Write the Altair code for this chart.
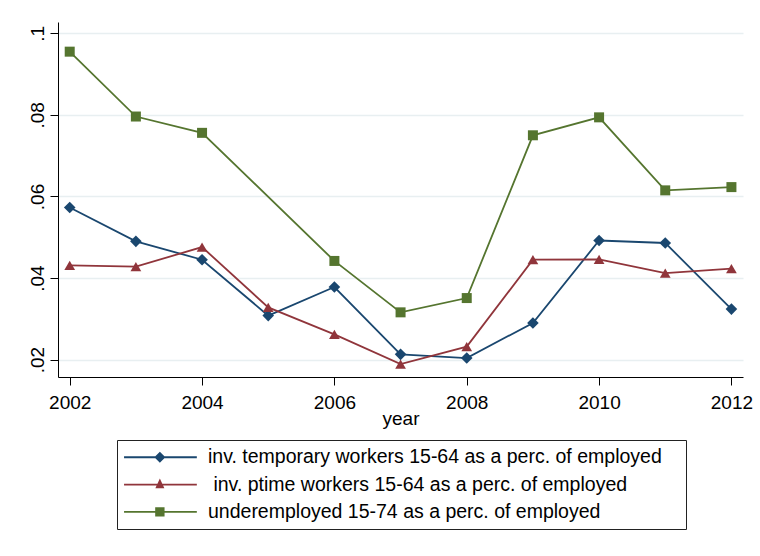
import altair as alt
import pandas as pd

# ---- data -------------------------------------------------------------
years = list(range(2002, 2013))
temporary = [0.0573, 0.0490, 0.0445, 0.0308, 0.0378, 0.0213, 0.0204,
             0.0290, 0.0492, 0.0486, 0.0324]
ptime = [0.0431, 0.0428, 0.0476, 0.0328, 0.0262, 0.0189, 0.0232,
         0.0445, 0.0446, 0.0412, 0.0423]
underemployed = [0.0955, 0.0796, 0.0756, None, 0.0442, 0.0316, 0.0351,
                 0.0750, 0.0794, 0.0615, 0.0623]

series_names = [
    "inv. temporary workers 15-64 as a perc. of employed",
    "\u00a0inv. ptime workers 15-64 as a perc. of employed",
    "underemployed 15-74 as a perc. of employed",
]
x_ticks = [2002, 2004, 2006, 2008, 2010, 2012]
y_ticks = [0.02, 0.04, 0.06, 0.08, 0.1]

rows = []
for name, values in zip(series_names, [temporary, ptime, underemployed]):
    for yr, v in zip(years, values):
        if v is not None:
            rows.append({"year": yr, "value": v, "series": name})
df = pd.DataFrame(rows)

# ---- styling ----------------------------------------------------------
colors = ["#1a476f", "#90353b", "#55752f"]
shapes = ["diamond", "triangle-up", "square"]
sizes = [135, 115, 100]
FONT = "Liberation Sans"

# legend keys: a short line with the marker sitting on it (path units = 6 px)
c, t = 4.27, 0.15
line_part = f"M-1.7,{-t}H10.43V{t}H-1.7Z"
legend_paths = [
    line_part + f"M{c},-0.92L{c + 0.92},0L{c},0.92L{c - 0.92},0Z",
    line_part + f"M{c},-1L{c + 0.75},0.6H{c - 0.75}Z",
    line_part + f"M{c - 0.78},-0.78H{c + 0.78}V0.78H{c - 0.78}Z",
]

y_scale = alt.Scale(domain=[0.01575, 0.10277], nice=False, zero=False)
x_enc = alt.X(
    "year:Q",
    scale=alt.Scale(domain=[2001.823, 2012.175], nice=False, zero=False),
    axis=alt.Axis(
        values=x_ticks, format="d", title="year", grid=False,
        tickSize=8, labelPadding=8, labelFontSize=19, labelFont=FONT,
        labelColor="black", domainColor="black", tickColor="black",
        titleFont=FONT, titleFontSize=19, titleFontWeight="normal",
        titleColor="black", titleBaseline="alphabetic", titleY=47,
    ),
)
y_axis = alt.Axis(
    values=y_ticks, labelExpr="substring(format(datum.value, '.2~f'), 1)",
    title=None, grid=True, gridColor="#e8eff1", gridWidth=1.6,
    tickSize=8, labelPadding=7, labelAngle=270, labelAlign="center",
    labelBaseline="alphabetic", labelFontSize=19, labelFont=FONT,
    labelColor="black", domainColor="black", tickColor="black",
)
y_enc = alt.Y("value:Q", scale=y_scale, axis=y_axis)

# one line + marker layer per series, drawn in series order
layers = []
for name, col, shp, sz in zip(series_names, colors, shapes, sizes):
    sub = alt.Chart(df).transform_filter(
        alt.FieldEqualPredicate(field="series", equal=name)
    )
    layers.append(sub.mark_line(strokeWidth=1.8, color=col).encode(x=x_enc, y=y_enc))
    layers.append(
        sub.mark_point(filled=True, shape=shp, size=sz, opacity=1, color=col)
        .encode(x=x_enc, y=y_enc)
    )

# layer that only carries the legend: its points sit below the y domain and
# are clipped away; zero-width characters keep the padding spaces untrimmed
legend_layer = (
    alt.Chart(df)
    .transform_calculate(below="datum.value - 1")
    .mark_point(filled=True, opacity=1, clip=True)
    .encode(
        x=x_enc,
        y=alt.Y("below:Q", scale=y_scale, axis=y_axis),
        color=alt.Color(
            "series:N", scale=alt.Scale(domain=series_names, range=colors),
            legend=alt.Legend(
                title=None, orient="none", legendX=59, legendY=418,
                padding=7.5, rowPadding=6.3, symbolSize=144, symbolStrokeWidth=0,
                symbolOpacity=1, labelOffset=64, labelFontSize=19.5,
                labelFont=FONT, labelColor="black", labelLimit=0,
                strokeColor="#222", fillColor="white", cornerRadius=0,
                labelExpr="'\u200b' + datum.label + '\u00a0\u00a0\u00a0\u200b'",
            ),
        ),
        shape=alt.Shape("series:N", scale=alt.Scale(domain=series_names,
                                                     range=legend_paths)),
    )
)

chart = (
    alt.layer(*layers, legend_layer)
    .properties(
        width=685, height=355,
        autosize=alt.AutoSizeParams(type="none"),
        padding={"left": 58, "top": 22, "right": 17, "bottom": 179},
        background="white",
    )
    .configure_view(stroke=None)
)

chart.save("out.html", embed_options={"renderer": "svg", "actions": False})
